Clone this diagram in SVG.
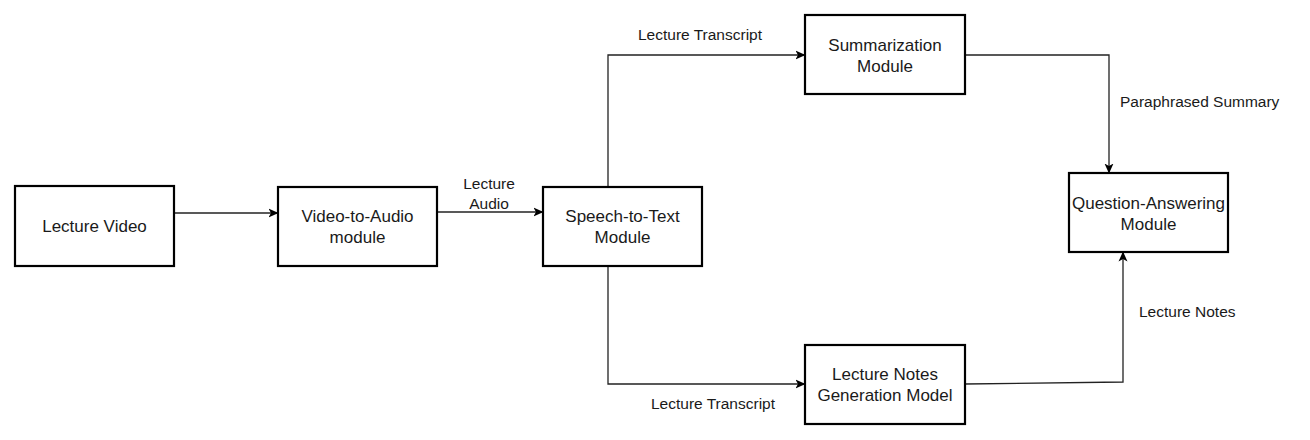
<svg xmlns="http://www.w3.org/2000/svg" width="1310" height="440" viewBox="0 0 1310 440">
<defs>
<marker id="arr" viewBox="0 0 10 10" refX="9.5" refY="5" markerWidth="10" markerHeight="10" markerUnits="userSpaceOnUse" orient="auto">
<path d="M0,0.5 L10,5 L0,9.5 L2.5,5 Z" fill="#000"/>
</marker>
</defs>
<style>
.box{fill:#fff;stroke:#000;stroke-width:2.2}
.nt{font-family:"Liberation Sans",Arial,sans-serif;font-size:17px;fill:#1a1a1a;text-anchor:middle}
.lb{font-family:"Liberation Sans",Arial,sans-serif;font-size:15.5px;fill:#1a1a1a}
.c{fill:none;stroke:#222;stroke-width:1.3}
</style>
<rect width="1310" height="440" fill="#fff"/>
<g id="connectors">
<path class="c" d="M174,213 L278,213" marker-end="url(#arr)"/>
<path class="c" d="M437,212 L543,212" marker-end="url(#arr)"/>
<path class="c" d="M608,187 L608,55 L805,55" marker-end="url(#arr)"/>
<path class="c" d="M608,266 L608,384 L805,384" marker-end="url(#arr)"/>
<path class="c" d="M965,55 L1109,55 L1109,173" marker-end="url(#arr)"/>
<path class="c" d="M965,384 L1123,382 L1123,252" marker-end="url(#arr)"/>
<text class="lb" x="489" y="189" text-anchor="middle">Lecture</text>
<text class="lb" x="489" y="209" text-anchor="middle">Audio</text>
<text class="lb" x="700" y="40" text-anchor="middle">Lecture Transcript</text>
<text class="lb" x="713" y="409" text-anchor="middle">Lecture Transcript</text>
<text class="lb" x="1120" y="107">Paraphrased Summary</text>
<text class="lb" x="1139" y="317">Lecture Notes</text>
</g>
<g id="lecture-video">
<rect class="box" x="15" y="186" width="159" height="80"/>
<text class="nt" x="94.5" y="232">Lecture Video</text>
</g>
<g id="video-to-audio">
<rect class="box" x="278" y="187" width="159" height="79"/>
<text class="nt" x="357.5" y="222">Video-to-Audio</text>
<text class="nt" x="357.5" y="243">module</text>
</g>
<g id="speech-to-text">
<rect class="box" x="543" y="187" width="159" height="79"/>
<text class="nt" x="622.5" y="222">Speech-to-Text</text>
<text class="nt" x="622.5" y="243">Module</text>
</g>
<g id="summarization">
<rect class="box" x="805" y="15" width="160" height="79"/>
<text class="nt" x="885" y="51">Summarization</text>
<text class="nt" x="885" y="72">Module</text>
</g>
<g id="lecture-notes">
<rect class="box" x="805" y="345" width="160" height="79"/>
<text class="nt" x="885" y="380">Lecture Notes</text>
<text class="nt" x="885" y="401">Generation Model</text>
</g>
<g id="question-answering">
<rect class="box" x="1069" y="173" width="159" height="79"/>
<text class="nt" x="1148.5" y="209">Question-Answering</text>
<text class="nt" x="1148.5" y="230">Module</text>
</g>
</svg>
